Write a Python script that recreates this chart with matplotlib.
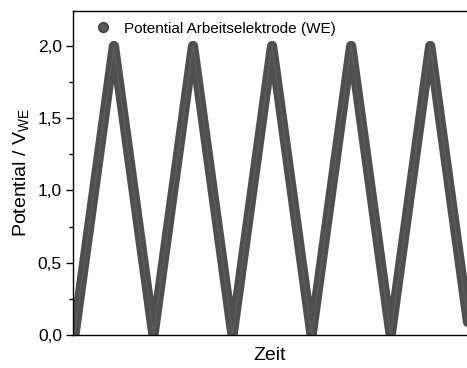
import matplotlib
matplotlib.use("Agg")
import matplotlib.pyplot as plt
from matplotlib.lines import Line2D
from matplotlib.ticker import MultipleLocator, FuncFormatter

plt.rcParams['font.family'] = ['Liberation Sans', 'DejaVu Sans']

# triangle sweep: vertex times (half periods) and potentials
zeit = [0, 1, 2, 3, 4, 5, 6, 7, 8, 9, 10]
potential = [0.0, 2.0, 0.0, 2.0, 0.0, 2.0, 0.0, 2.0, 0.0, 2.0, 0.0]
y_ticks = [0.0, 0.5, 1.0, 1.5, 2.0]
label_legend = "Potential Arbeitselektrode (WE)"

fig = plt.figure(figsize=(4.67, 3.68), dpi=100)
ax = fig.add_axes([0.1563, 0.0897, 0.8437, 0.8804])

ax.plot(zeit, potential, color="#4f4f4f", lw=7.4,
        solid_capstyle="round", solid_joinstyle="round")
ax.plot(zeit, potential, color="#5c5c5c", lw=1.0)

ax.set_xlim(-0.035, 9.93)
ax.set_ylim(0, 2.242)

ax.set_yticks(y_ticks)
ax.yaxis.set_minor_locator(MultipleLocator(0.25))
ax.yaxis.set_major_formatter(FuncFormatter(lambda v, p: ("%.1f" % v).replace(".", ",")))
ax.set_xticks([])
ax.tick_params(axis="y", which="major", length=5, width=1, labelsize=12.5,
               direction="out", pad=3)
ax.tick_params(axis="y", which="minor", length=3, width=1, direction="out")
for s in ax.spines.values():
    s.set_linewidth(1.0)
ax.spines['right'].set_visible(False)

ax.set_xlabel("Zeit", fontsize=14, labelpad=9)
ax.set_ylabel("Potential / V$_{\\mathregular{WE}}$", fontsize=14, labelpad=4)

h = Line2D([], [], ls="none", marker="o", markersize=7,
           markerfacecolor="#5a5a5a", markeredgecolor="#3c3c3c")
ax.legend([h], [label_legend], loc="upper left", frameon=False,
          fontsize=11, handletextpad=0.6, borderaxespad=0.3,
          handlelength=1.6, bbox_to_anchor=(0.018, 1.0))

fig.savefig("out.png", dpi=100)
